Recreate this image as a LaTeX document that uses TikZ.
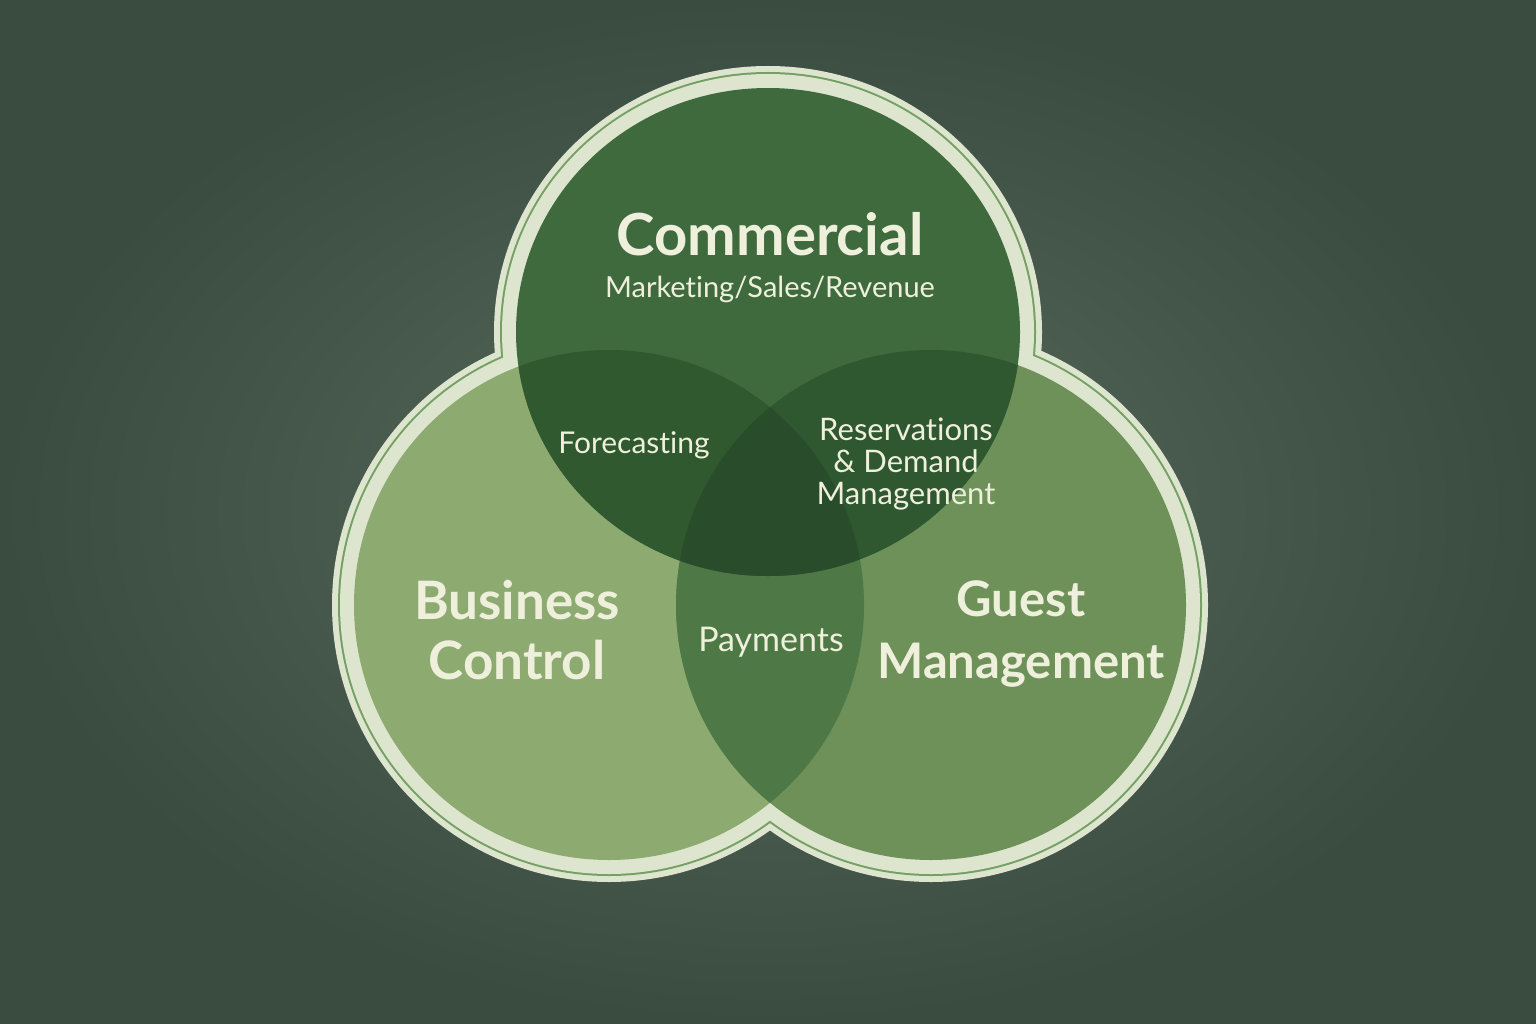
\documentclass[tikz,border=0pt]{standalone}
\usepackage{fontspec}
\setmainfont{Lato}[Ligatures=NoCommon]
\usetikzlibrary{positioning}
\definecolor{bgmid}{HTML}{586C5C}
\definecolor{bgdark}{HTML}{3A4B40}
\definecolor{rim}{HTML}{DDE5CF}
\definecolor{rimline}{HTML}{74A064}
\definecolor{cTop}{HTML}{3F6A3D}
\definecolor{cLeft}{HTML}{8DAA70}
\definecolor{cRight}{HTML}{6D9158}
\definecolor{cTL}{HTML}{30592F}
\definecolor{cTR}{HTML}{2F5830}
\definecolor{cLR}{HTML}{4E7846}
\definecolor{cAll}{HTML}{294D2A}
\definecolor{ink}{HTML}{EEF0DC}
% circle paths, grown by #1
\newcommand{\circTop}[1]{(768,332) ellipse [x radius=252pt+#1, y radius=244pt+#1]}
\newcommand{\circLeft}[1]{(609,605) circle [radius=255pt+#1]}
\newcommand{\circRight}[1]{(931,605) circle [radius=255pt+#1]}

\begin{document}
\begin{tikzpicture}[
  x=1pt, y=-1pt,
  lbl/.style={text=ink, align=center, inner sep=0pt},
  big/.style={lbl, font=\fontsize{50}{60}\selectfont\bfseries},
  small/.style={lbl, font=\fontsize{30}{32}\selectfont},
]
\useasboundingbox (0,0) rectangle (1536,1024);
% Chalkboard
\shade[inner color=bgmid, outer color=bgdark] (0,0) rectangle (1536,1024);
% Rim round the three sets
\foreach \r/\col in {22/rim, 16/rimline, 14/rim}{
  \fill[\col] \circTop{\r pt} \circLeft{\r pt} \circRight{\r pt};
}
% Sets
\fill[cLeft] \circLeft{0pt};
\fill[cRight] \circRight{0pt};
\fill[cTop] \circTop{0pt};
% Overlaps
\begin{scope} \clip \circLeft{0pt}; \fill[cLR] \circRight{0pt}; \end{scope}
\begin{scope} \clip \circTop{0pt}; \fill[cTL] \circLeft{0pt}; \end{scope}
\begin{scope} \clip \circTop{0pt}; \fill[cTR] \circRight{0pt}; \end{scope}
\begin{scope} \clip \circTop{0pt}; \clip \circLeft{0pt}; \fill[cAll] \circRight{0pt}; \end{scope}
% Labels
\node[big, font=\fontsize{58}{60}\selectfont\bfseries] (commercial) at (770,234) {Commercial};
\node[small, font=\fontsize{29}{30}\selectfont, below=20pt of commercial] (marketing) {Marketing/Sales/Revenue};
\node[small] (forecasting) at (634,445) {Forecasting};
\node[small, font=\fontsize{31}{32}\selectfont] (reservations) at (906,464) {Reservations\\\& Demand\\Management};
\node[big, font=\fontsize{53}{60}\selectfont\bfseries] (business) at (517,630) {Business\\Control};
\node[big, font=\fontsize{49}{62}\selectfont\bfseries] (guest) at (1021,634) {Guest\\Management};
\node[small, font=\fontsize{34}{36}\selectfont] (payments) at (771,642) {Payments};
\end{tikzpicture}
\end{document}
